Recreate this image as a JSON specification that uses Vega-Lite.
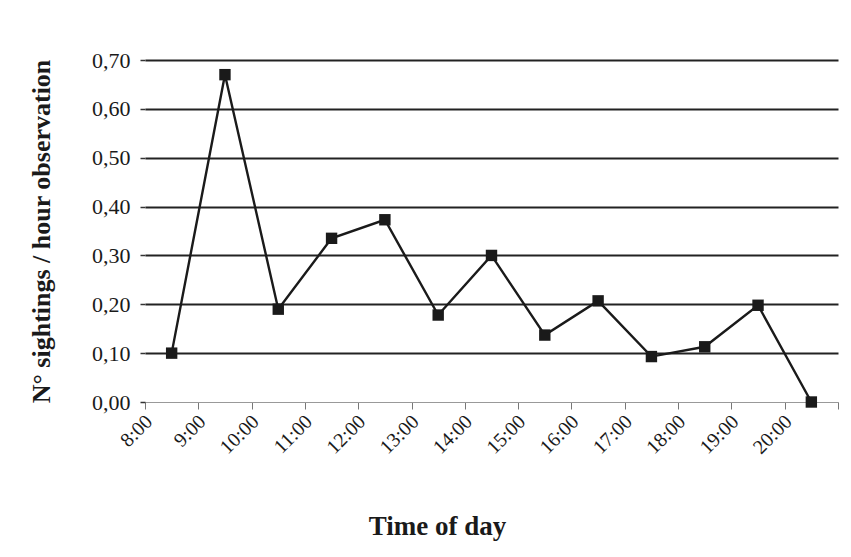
{
  "$schema": "https://vega.github.io/schema/vega-lite/v6.json",
  "autosize": "none",
  "width": 693,
  "height": 342,
  "padding": {"left": 145, "top": 60, "right": 13, "bottom": 155},
  "background": "white",
  "config": {"view": {"stroke": null}},
  "data": {"values": [
    {"time": "8:00", "v": 0.10},
    {"time": "9:00", "v": 0.67},
    {"time": "10:00", "v": 0.19},
    {"time": "11:00", "v": 0.335},
    {"time": "12:00", "v": 0.373},
    {"time": "13:00", "v": 0.178},
    {"time": "14:00", "v": 0.30},
    {"time": "15:00", "v": 0.137},
    {"time": "16:00", "v": 0.207},
    {"time": "17:00", "v": 0.093},
    {"time": "18:00", "v": 0.113},
    {"time": "19:00", "v": 0.198},
    {"time": "20:00", "v": 0.0}
  ]},
  "encoding": {
    "x": {
      "field": "time", "type": "ordinal", "sort": null,
      "scale": {"paddingInner": 0, "paddingOuter": 0},
      "axis": {
        "title": "Time of day",
        "titleFont": "Liberation Serif", "titleFontSize": 27, "titleFontWeight": "bold", "titleColor": "#1a1a1a",
        "titleX": 292, "titleY": 124, "titleAlign": "center", "titleBaseline": "middle",
        "labelFont": "Liberation Serif", "labelFontSize": 20, "labelColor": "#1a1a1a",
        "labelAngle": -45, "labelOffset": -30, "labelPadding": 2,
        "tickBand": "extent", "tickSize": 7, "tickColor": "#777", "domainColor": "#999", "domainWidth": 1
      }
    },
    "y": {
      "field": "v", "type": "quantitative",
      "scale": {"domain": [0, 0.7]},
      "axis": {
        "title": "N° sightings / hour observation",
        "titleFont": "Liberation Serif", "titleFontSize": 26, "titleFontWeight": "bold", "titleColor": "#1a1a1a",
        "titlePadding": 37,
        "labelFont": "Liberation Serif", "labelFontSize": 22, "labelColor": "#1a1a1a",
        "labelExpr": "replace(format(datum.value, '.2f'), '.', ',')",
        "values": [0, 0.1, 0.2, 0.3, 0.4, 0.5, 0.6, 0.7],
        "domain": false, "tickSize": 5, "tickColor": "#333", "tickWidth": 1.5,
        "grid": true,
        "gridColor": {"condition": {"test": "datum.value === 0", "value": "#999"}, "value": "#222"},
        "gridWidth": {"condition": {"test": "datum.value === 0", "value": 1}, "value": 1.8},
        "labelPadding": 10
      }
    }
  },
  "layer": [
    {"mark": {"type": "line", "color": "#1a1a1a", "strokeWidth": 2.4}},
    {"mark": {"type": "point", "shape": "square", "filled": true, "color": "#1a1a1a", "size": 130, "opacity": 1}}
  ]
}
